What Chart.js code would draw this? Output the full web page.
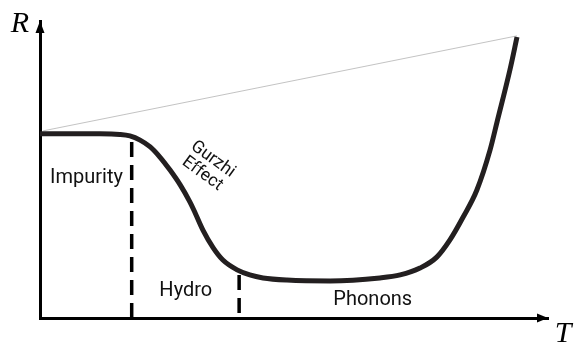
<!DOCTYPE html>
<html>
<head>
<meta charset="utf-8">
<script src="https://cdn.jsdelivr.net/npm/chart.js@4"></script>
<style>
  body { margin: 0; background: #fff; }
  #wrap { width: 579px; height: 344px; position: relative; }
</style>
</head>
<body>
<div id="wrap"><canvas id="rtChart"></canvas></div>
<script>
// resistance curve R(T) (arbitrary units 0..100)
const curveT = [0, 11.8, 15.7, 17.7, 19.7, 21.7, 23.6, 25.6, 27.6, 29.5, 30.3, 32.1, 34.1, 36.0, 38.8, 41.3, 43.9, 48.6, 57.1, 66.9, 70.9, 74.8, 78.1, 80.7, 83.3, 86.0, 88.6, 90.0, 92.5, 93.9];
const curveR = [62.0, 62.0, 61.8, 61.3, 59.9, 57.6, 54.2, 49.8, 44.8, 39.1, 36.3, 29.5, 23.6, 19.5, 16.2, 14.5, 13.5, 12.8, 12.5, 13.5, 14.5, 16.8, 20.5, 26.3, 34.0, 43.1, 56.6, 66.2, 83.5, 94.6];

// thin grey reference line
const guideT = [0.6, 93.9];
const guideR = [63.0, 95.0];

// regime boundaries (dashed verticals): T position and top R
const boundT = [18.05, 39.2];
const boundTop = [59.3, 14.5];

// region labels
const labels = [
    { text: ['Impurity'], t: 9.15, r: 47.1, rot: 0, size: 20 },
    { text: ['Hydro'], t: 28.7, r: 9.1, rot: 0, size: 20 },
    { text: ['Phonons'], t: 65.5, r: 6.1, rot: 0, size: 20 },
    { text: ['Gurzhi', 'Effect'], t: 33.0, r: 51.0, rot: 36, size: 17.5 }
];

function toPoints(xs, ys) {
    return xs.map((x, i) => ({ x: x, y: ys[i] }));
}

const datasets = [
    {
        data: toPoints(curveT, curveR),
        borderColor: '#231f20',
        borderWidth: 5,
        cubicInterpolationMode: 'monotone',
        pointRadius: 0
    },
    {
        data: toPoints(guideT, guideR),
        borderColor: '#b4b4b4',
        borderWidth: 0.8,
        pointRadius: 0
    }
];

boundT.forEach((t, i) => {
    datasets.push({
        data: [{ x: t, y: boundTop[i] }, { x: t, y: 0 }],
        borderColor: '#000',
        borderWidth: 3.5,
        borderDash: [15, 8],
        pointRadius: 0
    });
});

const decor = {
    id: 'decor',
    afterDraw(chart) {
        const ctx = chart.ctx;
        const a = chart.chartArea;
        const xs = chart.scales.x, ys = chart.scales.y;
        ctx.save();
        ctx.fillStyle = '#000';
        // arrow heads
        ctx.beginPath();
        ctx.moveTo(a.left, a.top);
        ctx.lineTo(a.left - 4.5, a.top + 12);
        ctx.lineTo(a.left + 4.5, a.top + 12);
        ctx.closePath();
        ctx.fill();
        ctx.beginPath();
        ctx.moveTo(a.right, a.bottom);
        ctx.lineTo(a.right - 11, a.bottom - 4.5);
        ctx.lineTo(a.right - 11, a.bottom + 4.5);
        ctx.closePath();
        ctx.fill();

        // axis names
        ctx.font = 'italic 30px "Liberation Serif"';
        ctx.textAlign = 'center';
        ctx.textBaseline = 'alphabetic';
        ctx.fillText('R', a.left - 20, a.top + 11);
        ctx.fillText('T', a.right + 15, a.bottom + 24);

        // region labels
        ctx.fillStyle = '#111';
        ctx.textBaseline = 'middle';
        labels.forEach(l => {
            ctx.save();
            ctx.translate(xs.getPixelForValue(l.t), ys.getPixelForValue(l.r));
            ctx.rotate(l.rot * Math.PI / 180);
            ctx.font = l.size + 'px Roboto';
            const lh = l.size * 1.02;
            l.text.forEach((line, j) => {
                ctx.fillText(line, 0, (j - (l.text.length - 1) / 2) * lh);
            });
            ctx.restore();
        });
        ctx.restore();
    }
};

new Chart(document.getElementById('rtChart'), {
    type: 'line',
    data: { datasets: datasets },
    options: {
        responsive: true,
        maintainAspectRatio: false,
        animation: false,
        layout: { padding: { left: 40, top: 21, right: 31, bottom: 26 } },
        plugins: { legend: { display: false }, tooltip: { enabled: false } },
        scales: {
            x: {
                type: 'linear', min: 0, max: 100,
                grid: { display: false, drawTicks: false },
                ticks: { display: false },
                border: { color: '#000', width: 3 }
            },
            y: {
                type: 'linear', min: 0, max: 100,
                grid: { display: false, drawTicks: false },
                ticks: { display: false },
                border: { color: '#000', width: 3 }
            }
        }
    },
    plugins: [decor]
});
</script>
</body>
</html>
